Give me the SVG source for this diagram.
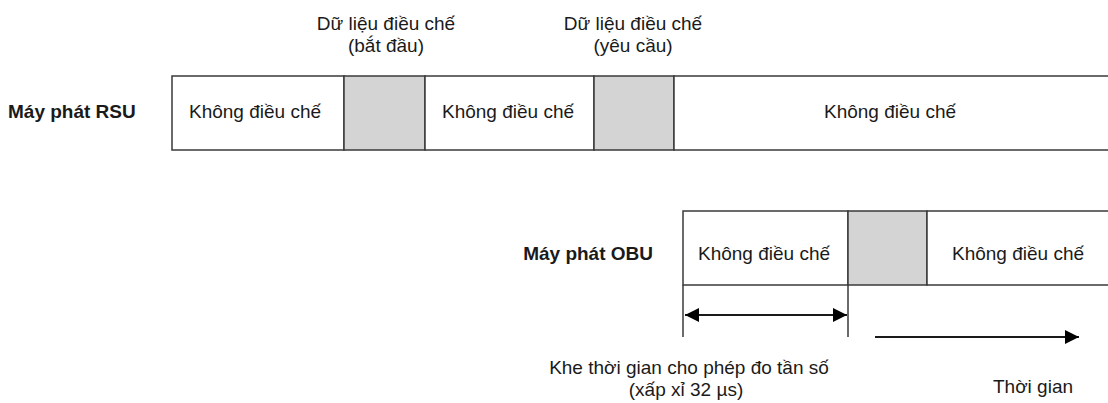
<svg xmlns="http://www.w3.org/2000/svg" width="1108" height="403" viewBox="0 0 1108 403">
<style>
text{font-family:"Liberation Sans",Arial,sans-serif;font-size:19px;fill:#1a1a1a}
.b{font-weight:bold}
.m{text-anchor:middle}
.cell{fill:#fff;stroke:#3a3a3a;stroke-width:1.5}
.dat{fill:#d4d4d4;stroke:#3a3a3a;stroke-width:1.5}
.ln{stroke:#1a1a1a;stroke-width:2;fill:none}
.tk{stroke:#3a3a3a;stroke-width:1.5;fill:none}
</style>
<defs>
<marker id="ah" viewBox="0 0 10 10" refX="10" refY="5" markerWidth="7.5" markerHeight="7" orient="auto-start-reverse" markerUnits="strokeWidth"><path d="M0,0 L10,5 L0,10 Z" fill="#000"/></marker>
</defs>
<g id="label-top1"><text class="m" x="386" y="30">Dữ liệu điều chế</text><text class="m" x="386" y="52">(bắt đầu)</text></g>
<g id="label-top2"><text class="m" x="633" y="30">Dữ liệu điều chế</text><text class="m" x="633" y="52">(yêu cầu)</text></g>
<g id="rsu">
<text class="b" x="8" y="118">Máy phát RSU</text>
<rect class="cell" x="172" y="76" width="172" height="74"/>
<rect class="dat" x="344" y="76" width="81" height="74"/>
<rect class="cell" x="425" y="76" width="169" height="74"/>
<rect class="dat" x="594" y="76" width="80" height="74"/>
<rect class="cell" x="674" y="76" width="440" height="74"/>
<text class="m" x="255" y="118">Không điều chế</text>
<text class="m" x="508" y="118">Không điều chế</text>
<text class="m" x="890" y="118">Không điều chế</text>
</g>
<g id="obu">
<text class="b" x="653" y="260" text-anchor="end">Máy phát OBU</text>
<rect class="cell" x="683" y="211" width="165" height="74"/>
<rect class="dat" x="848" y="211" width="79" height="74"/>
<rect class="cell" x="927" y="211" width="190" height="74"/>
<text class="m" x="764" y="260">Không điều chế</text>
<text class="m" x="1018" y="260">Không điều chế</text>
</g>
<g id="connectors">
<line class="tk" x1="683" y1="285" x2="683" y2="337"/>
<line class="tk" x1="848" y1="285" x2="848" y2="337"/>
<line class="ln" x1="685" y1="315" x2="847" y2="315" marker-start="url(#ah)" marker-end="url(#ah)"/>
<line class="ln" x1="875" y1="337" x2="1079" y2="337" marker-end="url(#ah)"/>
</g>
<g id="labels-bottom">
<text class="m" x="689" y="374">Khe thời gian cho phép đo tần số</text>
<text class="m" x="686" y="396">(xấp xỉ 32 µs)</text>
<text class="m" x="1033" y="393">Thời gian</text>
</g>
</svg>
